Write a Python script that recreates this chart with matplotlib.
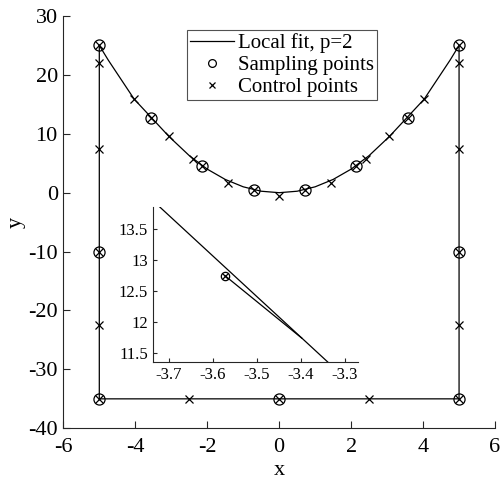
import numpy as np
import matplotlib
matplotlib.use("Agg")
import matplotlib.pyplot as plt

plt.rcParams['font.family'] = ['Liberation Serif', 'DejaVu Serif']
plt.rcParams['axes.unicode_minus'] = False

# Local fit curve: parabola part, then the box sides
fit_x = [-5, -4.75, -4.5, -4.03, -3.06, -2.5, -2.0, -1.5, -1.0, -0.5, 0.0,
         0.5, 1.0, 1.5, 2.0, 2.5, 3.06, 4.03, 4.5, 4.75, 5,
         5, 5, -5, -5]
fit_y = [25, 22.5, 20.2, 15.88, 9.52, 6.3, 4.0, 2.25, 1.0, 0.25, 0.0,
         0.25, 1.0, 2.25, 4.0, 6.3, 9.52, 15.88, 20.2, 22.5, 25,
         25, -35, -35, 25]

# short extra piece of the local fit, visible only in the zoomed inset
spur_x = [-3.573, -3.398]
spur_y = [12.746, 11.735]

samp_x = [-5, -3.573, -2.14, -0.71, 0.71, 2.14, 3.573, 5, 5, 5, 0, -5, -5]
samp_y = [25, 12.746, 4.6, 0.5, 0.5, 4.6, 12.746, 25, -10, -35, -35, -35, -10]

ctrl_x = [-5, -4.03, -3.06, -2.4, -1.43, 0, 1.43, 2.4, 3.06, 4.03, 5,
          5, 5, 2.5, -2.5, -5, -5] + samp_x
ctrl_y = [22, 15.9, 9.7, 5.8, 1.7, -0.5, 1.7, 5.8, 9.7, 15.9, 22,
          7.5, -22.5, -35, -35, -22.5, 7.5] + samp_y

axcol = '#262626'

fig = plt.figure(figsize=(5.01, 4.8), dpi=100)
ax = fig.add_axes([0.1264, 0.1077, 0.8617, 0.859])

ax.plot(fit_x, fit_y, '-', color='black', lw=0.9, label='Local fit, p=2')
ax.plot(samp_x, samp_y, 'o', mfc='none', mec='black', ms=8, mew=0.9,
        label='Sampling points')
ax.plot(ctrl_x, ctrl_y, 'x', color='black', ms=5.5, mew=0.9,
        label='Control points')

ax.set_xlim(-6, 6)
ax.set_ylim(-40, 30)
ax.set_xticks(np.arange(-6, 7, 2))
ax.set_yticks(np.arange(-40, 31, 10))
ax.set_xlabel('x', fontsize=16, labelpad=3)
ax.set_ylabel('y', fontsize=16, labelpad=2)
for s in ['top', 'right']:
    ax.spines[s].set_visible(False)
for s in ['left', 'bottom']:
    ax.spines[s].set_color(axcol)
    ax.spines[s].set_linewidth(0.8)
ax.tick_params(direction='in', length=5, width=0.8, colors=axcol,
               labelcolor='black', labelsize=16)
ax.tick_params(axis='x', pad=7)
ax.tick_params(axis='y', pad=4)

leg = ax.legend(loc='upper center', bbox_to_anchor=(0.507, 0.966), fontsize=15,
                frameon=True, fancybox=False, borderpad=0.15,
                labelspacing=0.12, handlelength=2.1, handletextpad=0.2,
                markerscale=0.7, borderaxespad=0)
leg.get_frame().set_edgecolor(axcol)
leg.get_frame().set_linewidth(0.8)

# inset zoom
ins = fig.add_axes([0.306, 0.2465, 0.4086, 0.3223])
ins.plot(fit_x, fit_y, '-', color='black', lw=0.9)
ins.plot(spur_x, spur_y, '-', color='black', lw=0.9)
ins.plot(samp_x, samp_y, 'o', mfc='none', mec='black', ms=6, mew=0.9)
ins.plot(ctrl_x, ctrl_y, 'x', color='black', ms=4.5, mew=0.9)
ins.set_xlim(-3.736, -3.27)
ins.set_ylim(11.354, 13.856)
ins.set_xticks([-3.7, -3.6, -3.5, -3.4, -3.3])
ins.set_yticks([11.5, 12, 12.5, 13, 13.5])
ins.set_xticklabels(['-3.7', '-3.6', '-3.5', '-3.4', '-3.3'])
ins.set_yticklabels(['11.5', '12', '12.5', '13', '13.5'])
for s in ['top', 'right']:
    ins.spines[s].set_visible(False)
for s in ['left', 'bottom']:
    ins.spines[s].set_color(axcol)
    ins.spines[s].set_linewidth(0.8)
ins.tick_params(direction='in', length=3, width=0.8, colors=axcol,
                labelcolor='black', labelsize=12, pad=4)

fig.savefig('out.png', dpi=100)
